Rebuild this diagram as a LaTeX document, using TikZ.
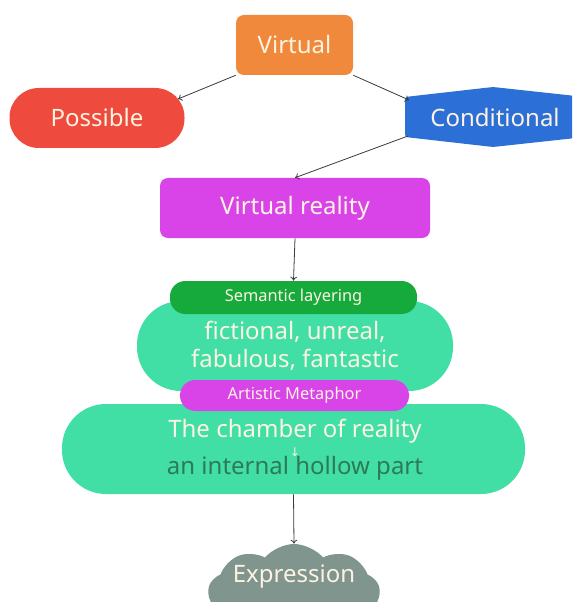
\documentclass[tikz,border=0pt]{standalone}
\usepackage{fontspec}
\setmainfont{Noto Sans}
\newfontfamily\symfont{DejaVu Sans}
\usetikzlibrary{shapes.symbols,arrows.meta}
\definecolor{cream}{HTML}{FCF3E2}
\definecolor{vorange}{HTML}{F0893B}
\definecolor{pred}{HTML}{EE4A3D}
\definecolor{cblue}{HTML}{2B6FD7}
\definecolor{vmag}{HTML}{D944E8}
\definecolor{mint}{HTML}{41DFA6}
\definecolor{sgreen}{HTML}{16A93C}
\definecolor{deepgreen}{HTML}{2E7A57}
\definecolor{cloudgray}{HTML}{7F958D}
\definecolor{linegray}{HTML}{3A3A3A}
\tikzset{
  box/.style={fill=#1, text=cream, inner sep=0pt, font=\fontsize{18}{22}\selectfont},
  pill/.style={fill=#1, text=cream, inner sep=0pt, rounded corners=11.5pt, font=\fontsize{12.3}{14}\selectfont},
  link/.style={draw=linegray, line width=0.6pt, -{To[length=3pt,width=5pt]}},
}
\begin{document}
\begin{tikzpicture}[x=0.75pt,y=-0.75pt]
\useasboundingbox (0,0) rectangle (572,602);
\clip (0,0) rectangle (572,602);
\fill[white] (0,0) rectangle (572,602);

% top row
\node[box=vorange, rounded corners=6pt, minimum width=117*0.75pt, minimum height=60*0.75pt] (virtual) at (294.5,45) {Virtual};
\node[box=pred, rounded corners=22pt, minimum width=175*0.75pt, minimum height=60*0.75pt] (possible) at (97,118) {Possible};
\coordinate (possin) at (178,99);
\fill[cblue, rounded corners=2pt] (405,97) -- (493,87) -- (585,97) -- (585,137) -- (493,147) -- (405,137) -- cycle;
\node[text=cream, font=\fontsize{18}{22}\selectfont, inner sep=0pt] (conditional) at (495,118) {Conditional};
\coordinate (condin) at (409,100);
\coordinate (condout) at (408,136);

% middle
\node[box=vmag, rounded corners=6pt, minimum width=270*0.75pt, minimum height=60*0.75pt] (vreality) at (295,208) {Virtual reality};

\node[fill=mint, rounded corners=33pt, minimum width=316*0.75pt, minimum height=90*0.75pt, text=cream, align=center, inner sep=0pt,
      font=\fontsize{18}{20.5}\selectfont] (senses) at (295,346) {fictional, unreal,\\fabulous, fantastic};
\node[fill=mint, rounded corners=33pt, minimum width=463*0.75pt, minimum height=90*0.75pt, inner sep=0pt] (chamber) at (293.5,449) {};
\node[text=cream, font=\fontsize{18}{22}\selectfont, inner sep=0pt] (chambertext) at (295,431) {The chamber of reality};
\node[text=cream, font=\symfont\fontsize{9}{10}\selectfont, inner sep=0pt] (down) at (295,452) {↓};
\node[text=deepgreen, font=\fontsize{18}{22}\selectfont, inner sep=0pt] (hollow) at (295,468) {an internal hollow part};

\node[pill=sgreen, minimum width=247*0.75pt, minimum height=33*0.75pt] (semantic) at (293.5,297.5) {Semantic layering};
\node[pill=vmag, minimum width=229*0.75pt, minimum height=31*0.75pt] (artistic) at (294.5,395.5) {Artistic Metaphor};

% bottom
\node[cloud, cloud puffs=9, cloud puff arc=100, aspect=2.2, fill=cloudgray, minimum width=172*0.75pt, minimum height=100*0.75pt, inner sep=0pt] (cloudshape) at (294,594) {};
\node[text=cream, font=\fontsize{18}{22}\selectfont, inner sep=0pt] (expression) at (294,577) {Expression};

% connectors
\draw[link] (virtual.south west) -- (possin);
\draw[link] (virtual.south east) -- (condin);
\draw[link] (condout) -- (vreality.north);
\draw[link] (vreality.south) -- (semantic.north);
\draw[link] (chamber.south) -- (cloudshape.north);
\end{tikzpicture}
\end{document}
